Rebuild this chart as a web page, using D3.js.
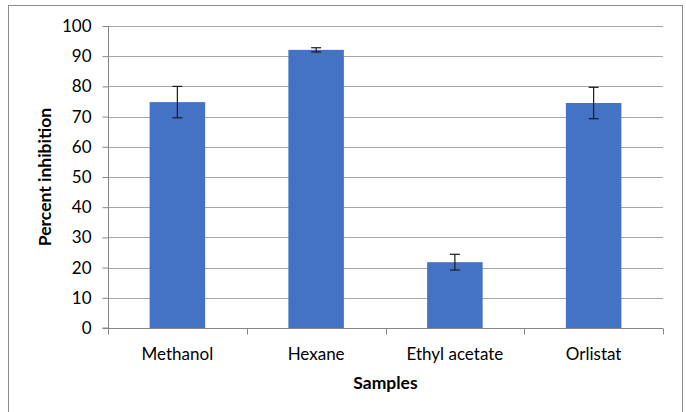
<!DOCTYPE html>
<html lang="en">
<head>
    <meta charset="UTF-8">
    <title>Percent inhibition by sample</title>
    <script src="https://d3js.org/d3.v7.min.js"></script>
    <style>
        body { margin: 0; background: #fff; }
        svg text { font-family: Lato, "Liberation Sans", sans-serif; fill: #000; }
    </style>
</head>
<body>
    <div id="chart"></div>
    <script>
        // data
        var samples = ["Methanol", "Hexane", "Ethyl acetate", "Orlistat"];
        var inhibition = [74.8, 92.1, 21.8, 74.5];
        var errors = [5.2, 0.7, 2.6, 5.2];
        var yTicks = [0, 10, 20, 30, 40, 50, 60, 70, 80, 90, 100];

        var w = 686;
        var h = 412;
        var margin = { top: 26, right: 23, bottom: 84, left: 108 };

        var svg = d3.select("#chart")
            .append("svg")
            .attr("width", w)
            .attr("height", h);

        // outer chart border
        svg.append("rect")
            .attr("x", 8.5)
            .attr("y", 5.5)
            .attr("width", 674)
            .attr("height", 420)
            .attr("fill", "none")
            .attr("stroke", "#8c8c8c");

        var xScale = d3.scaleBand()
            .domain(samples)
            .range([margin.left, w - margin.right])
            .paddingInner(0.6)
            .paddingOuter(0.3);

        var yScale = d3.scaleLinear()
            .domain([0, 100])
            .range([h - margin.bottom, margin.top]);

        // gridlines
        svg.append("g")
            .selectAll("line")
            .data(yTicks.slice(1))
            .enter()
            .append("line")
            .attr("x1", margin.left)
            .attr("x2", w - margin.right)
            .attr("y1", d => Math.round(yScale(d)) + 0.5)
            .attr("y2", d => Math.round(yScale(d)) + 0.5)
            .attr("stroke", "#a6a6a6")
            .attr("stroke-width", 1);

        // bars
        svg.selectAll("rect.bar")
            .data(samples)
            .enter()
            .append("rect")
            .attr("class", "bar")
            .attr("x", d => xScale(d))
            .attr("width", xScale.bandwidth())
            .attr("y", (d, i) => yScale(inhibition[i]))
            .attr("height", (d, i) => yScale(0) - yScale(inhibition[i]))
            .attr("fill", "#4472c4");

        // error bars
        var eb = svg.append("g")
            .selectAll("g")
            .data(samples)
            .enter()
            .append("g")
            .attr("stroke", "#1a1a1a")
            .attr("stroke-width", 1.2);

        eb.append("line")
            .attr("x1", d => xScale(d) + xScale.bandwidth() / 2)
            .attr("x2", d => xScale(d) + xScale.bandwidth() / 2)
            .attr("y1", (d, i) => yScale(inhibition[i] + errors[i]))
            .attr("y2", (d, i) => yScale(inhibition[i] - errors[i]));

        [1, -1].forEach(function(sign) {
            eb.append("line")
                .attr("x1", d => xScale(d) + xScale.bandwidth() / 2 - 5)
                .attr("x2", d => xScale(d) + xScale.bandwidth() / 2 + 5)
                .attr("y1", (d, i) => yScale(inhibition[i] + sign * errors[i]))
                .attr("y2", (d, i) => yScale(inhibition[i] + sign * errors[i]));
        });

        // y axis
        var yAxis = svg.append("g")
            .attr("transform", "translate(" + (margin.left + 0.5) + ",0)")
            .call(d3.axisLeft(yScale).tickValues(yTicks).tickSize(6).tickPadding(11));

        // x axis
        var xAxis = svg.append("g")
            .attr("transform", "translate(0," + (Math.round(yScale(0)) + 0.5) + ")")
            .call(d3.axisBottom(xScale).tickSize(0).tickPadding(19));

        // category separator ticks
        var bounds = samples.map(d => xScale(d) - xScale.step() * xScale.paddingInner() / 2);
        bounds.push(w - margin.right);
        xAxis.selectAll("line.sep")
            .data(bounds)
            .enter()
            .append("line")
            .attr("class", "sep")
            .attr("x1", d => Math.round(d) + 0.5)
            .attr("x2", d => Math.round(d) + 0.5)
            .attr("y1", 0)
            .attr("y2", 6);

        [yAxis, xAxis].forEach(function(ax) {
            ax.select(".domain").attr("stroke", "#868686");
            ax.selectAll("line").attr("stroke", "#868686");
            ax.selectAll("text")
                .attr("font-size", "17px")
                .attr("font-family", "Lato, sans-serif")
                .attr("fill", "#000");
        });
        yAxis.select(".domain").attr("d", "M-6," + yScale(0) + "H0V" + yScale(100));
        xAxis.select(".domain").attr("d", "M" + margin.left + ",0H" + (w - margin.right));

        // axis titles
        svg.append("text")
            .text("Samples")
            .attr("x", (margin.left + w - margin.right) / 2)
            .attr("y", 389)
            .attr("text-anchor", "middle")
            .attr("font-size", "17.5px")
            .attr("font-weight", "bold");

        svg.append("text")
            .text("Percent inhibition")
            .attr("transform", "translate(51," + yScale(50) + ") rotate(-90)")
            .attr("text-anchor", "middle")
            .attr("font-size", "17.5px")
            .attr("font-weight", "bold");
    </script>
</body>
</html>
